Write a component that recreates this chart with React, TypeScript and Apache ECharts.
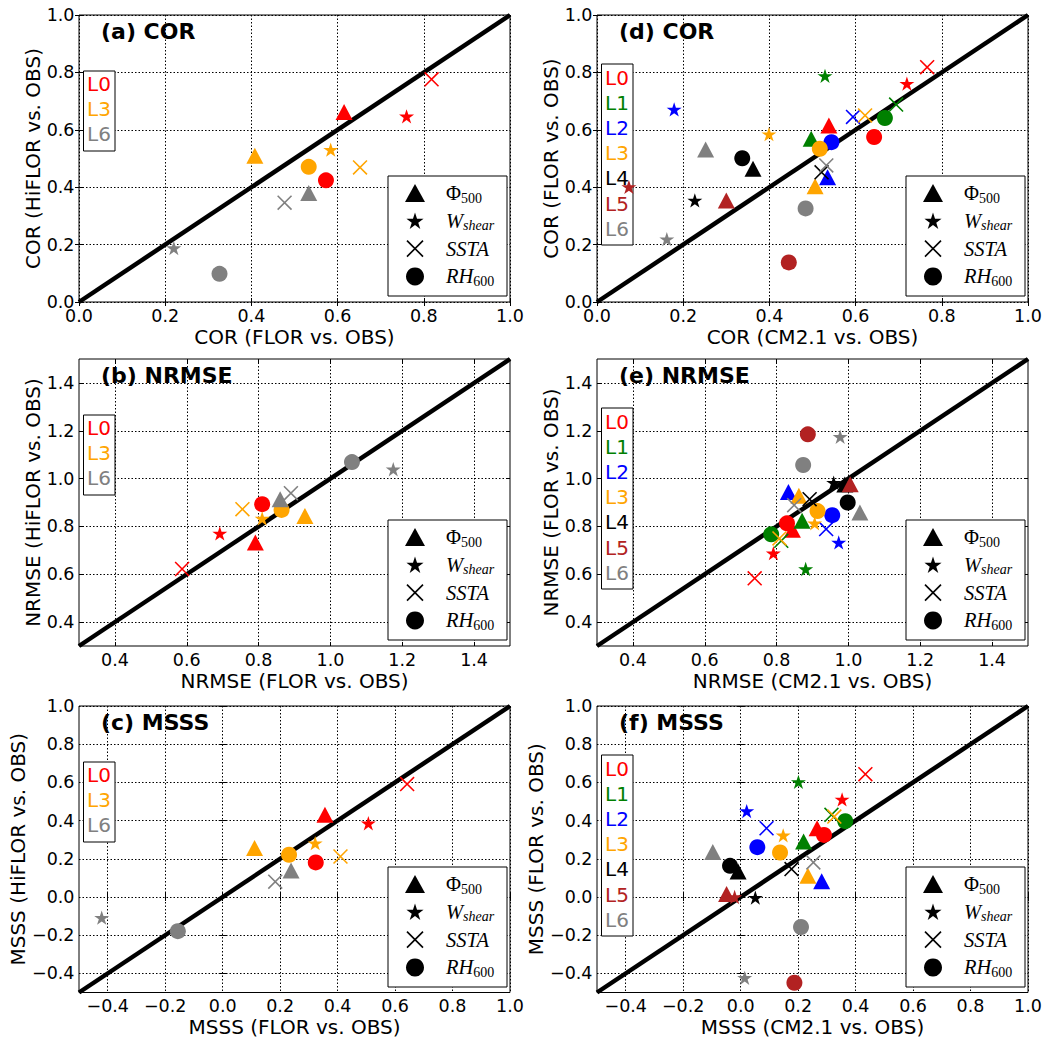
import React, { useEffect, useRef } from "react";
import * as echarts from "echarts";

// ---------- levels ----------
const LEVEL_NAMES = ["L0", "L1", "L2", "L3", "L4", "L5", "L6"];
const LEVEL_COLORS = ["#ff0000", "#008000", "#0000ff", "#ffa500", "#000000", "#b22222", "#808080"];
const LEFT_LEVELS = [0, 3, 6];
const RIGHT_LEVELS = [0, 1, 2, 3, 4, 5, 6];

// ---------- axis ranges / ticks ----------
const RANGE_COR = [0, 1];
const RANGE_NRMSE = [0.3, 1.5];
const RANGE_MSSS = [-0.5, 1.0];
const TICKS_COR = [0.0, 0.2, 0.4, 0.6, 0.8, 1.0];
const TICKS_NRMSE = [0.4, 0.6, 0.8, 1.0, 1.2, 1.4];
const TICKS_MSSS = [-0.4, -0.2, 0.0, 0.2, 0.4, 0.6, 0.8, 1.0];

// ---------- data: [x, y] per level (left panels: L0, L3, L6) ----------
const A_PHI500 = [[0.615, 0.662], [0.408, 0.510], [0.533, 0.380]];
const A_WSHEAR = [[0.760, 0.647], [0.584, 0.531], [0.220, 0.188]];
const A_SSTA = [[0.818, 0.776], [0.652, 0.469], [0.477, 0.346]];
const A_RH600 = [[0.573, 0.424], [0.533, 0.471], [0.326, 0.098]];

const B_PHI500 = [[0.791, 0.733], [0.929, 0.844], [0.860, 0.914]];
const B_WSHEAR = [[0.692, 0.771], [0.810, 0.833], [1.175, 1.039]];
const B_SSTA = [[0.587, 0.622], [0.755, 0.872], [0.890, 0.939]];
const B_RH600 = [[0.810, 0.893], [0.864, 0.869], [1.060, 1.069]];

const C_PHI500 = [[0.356, 0.430], [0.111, 0.256], [0.238, 0.139]];
const C_WSHEAR = [[0.507, 0.386], [0.322, 0.282], [-0.421, -0.108]];
const C_SSTA = [[0.642, 0.591], [0.410, 0.212], [0.183, 0.080]];
const C_RH600 = [[0.324, 0.181], [0.231, 0.221], [-0.156, -0.179]];

// right panels: L0..L6
const D_PHI500 = [[0.538, 0.615], [0.497, 0.569], [0.535, 0.435], [0.506, 0.403], [0.362, 0.464], [0.300, 0.354], [0.252, 0.531]];
const D_WSHEAR = [[0.719, 0.761], [0.529, 0.788], [0.179, 0.671], [0.399, 0.585], [0.227, 0.354], [0.074, 0.401], [0.162, 0.219]];
const D_SSTA = [[0.766, 0.818], [0.694, 0.688], [0.594, 0.645], [0.622, 0.650], [0.521, 0.452], null, [0.532, 0.476]];
const D_RH600 = [[0.643, 0.575], [0.668, 0.641], [0.544, 0.557], [0.517, 0.534], [0.337, 0.501], [0.445, 0.138], [0.484, 0.326]];

const E_PHI500 = [[0.844, 0.786], [0.871, 0.824], [0.833, 0.944], [0.862, 0.928], [0.990, 0.975], [1.005, 0.976], [1.032, 0.858]];
const E_WSHEAR = [[0.791, 0.688], [0.881, 0.622], [0.973, 0.733], [0.906, 0.813], [0.959, 0.983], null, [0.977, 1.175]];
const E_SSTA = [[0.739, 0.583], [0.813, 0.740], [0.938, 0.789], [0.808, 0.750], [0.892, 0.914], null, [0.849, 0.889]];
const E_RH600 = [[0.829, 0.813], [0.785, 0.767], [0.955, 0.847], [0.914, 0.864], [0.998, 0.900], [0.887, 1.185], [0.874, 1.057]];

const F_PHI500 = [[0.266, 0.360], [0.219, 0.290], [0.282, 0.082], [0.234, 0.111], [-0.009, 0.134], [-0.049, 0.016], [-0.097, 0.235]];
const F_WSHEAR = [[0.353, 0.511], [0.201, 0.603], [0.021, 0.450], [0.148, 0.323], [0.051, -0.003], [-0.021, 0.000], [0.014, -0.423]];
const F_SSTA = [[0.434, 0.643], [0.316, 0.430], [0.090, 0.360], [0.326, 0.421], [0.177, 0.146], null, [0.253, 0.181]];
const F_RH600 = [[0.290, 0.325], [0.364, 0.397], [0.058, 0.261], [0.137, 0.233], [-0.037, 0.163], [0.187, -0.449], [0.210, -0.157]];

// ---------- shapes ----------
function starPoints(cx: number, cy: number, R: number) {
  const pts: number[][] = [];
  for (let k = 0; k < 10; k++) {
    const r = k % 2 === 0 ? R : R * 0.381966;
    const ang = Math.PI / 2 + (k * Math.PI) / 5;
    pts.push([cx + r * Math.cos(ang), cy - r * Math.sin(ang)]);
  }
  return pts;
}
const STAR_PATH =
  "path://M" + starPoints(0, 0, 1).map((p) => p[0].toFixed(4) + "," + p[1].toFixed(4)).join("L") + "Z";
const XA = 0.08;
const X_PATH =
  `path://M${-1 + XA},${-1 - XA}L${1 + XA},${1 - XA}L${1 - XA},${1 + XA}L${-1 - XA},${-1 + XA}Z` +
  `M${1 - XA},${-1 - XA}L${1 + XA},${-1 + XA}L${-1 + XA},${1 + XA}L${-1 - XA},${1 - XA}Z`;

const SYMBOLS = ["triangle", STAR_PATH, X_PATH, "circle"];
const SYMBOL_SIZES: any[] = [[17, 16], [15, 14.3], 15, 16];

const SANS = "DejaVu Sans";
const SERIF = "Liberation Serif";

const fmt = (v: number) => v.toFixed(1).replace("-", "\u2212");

const COL_LEFT = [79, 597];
const ROW_TOP = [15, 359, 706];
const GW = 431;
const GH = 287;

const PANELS = [
  { title: "(a) COR", col: 0, row: 0, xName: "COR (FLOR vs. OBS)", yName: "COR (HiFLOR vs. OBS)", range: RANGE_COR, ticks: TICKS_COR, levels: LEFT_LEVELS, vars: [A_PHI500, A_WSHEAR, A_SSTA, A_RH600] },
  { title: "(b) NRMSE", col: 0, row: 1, xName: "NRMSE (FLOR vs. OBS)", yName: "NRMSE (HiFLOR vs. OBS)", range: RANGE_NRMSE, ticks: TICKS_NRMSE, levels: LEFT_LEVELS, vars: [B_PHI500, B_WSHEAR, B_SSTA, B_RH600] },
  { title: "(c) MSSS", col: 0, row: 2, xName: "MSSS (FLOR vs. OBS)", yName: "MSSS (HiFLOR vs. OBS)", range: RANGE_MSSS, ticks: TICKS_MSSS, levels: LEFT_LEVELS, vars: [C_PHI500, C_WSHEAR, C_SSTA, C_RH600] },
  { title: "(d) COR", col: 1, row: 0, xName: "COR (CM2.1 vs. OBS)", yName: "COR (FLOR vs. OBS)", range: RANGE_COR, ticks: TICKS_COR, levels: RIGHT_LEVELS, vars: [D_PHI500, D_WSHEAR, D_SSTA, D_RH600] },
  { title: "(e) NRMSE", col: 1, row: 1, xName: "NRMSE (CM2.1 vs. OBS)", yName: "NRMSE (FLOR vs. OBS)", range: RANGE_NRMSE, ticks: TICKS_NRMSE, levels: RIGHT_LEVELS, vars: [E_PHI500, E_WSHEAR, E_SSTA, E_RH600] },
  { title: "(f) MSSS", col: 1, row: 2, xName: "MSSS (CM2.1 vs. OBS)", yName: "MSSS (FLOR vs. OBS)", range: RANGE_MSSS, ticks: TICKS_MSSS, levels: RIGHT_LEVELS, vars: [F_PHI500, F_WSHEAR, F_SSTA, F_RH600] },
];

const LEGEND_TEXTS = [
  "{m|\u03A6}{s|500}",
  "{mi|W}{si|shear}",
  "{mi|SSTA}",
  "{mi|RH}{s|600}",
];
const LEGEND_RICH = {
  m: { fontSize: 20.5, fontFamily: SERIF, lineHeight: 24, fill: "#000" },
  mi: { fontSize: 20.5, fontFamily: SERIF, fontStyle: "italic", lineHeight: 24, fill: "#000" },
  s: { fontSize: 14, fontFamily: SERIF, lineHeight: 8, verticalAlign: "bottom", fill: "#000" },
  si: { fontSize: 14, fontFamily: SERIF, fontStyle: "italic", lineHeight: 8, verticalAlign: "bottom", fill: "#000" },
};

function buildOption() {
  const grid: any[] = [];
  const xAxis: any[] = [];
  const yAxis: any[] = [];
  const series: any[] = [];
  const graphic: any[] = [];

  PANELS.forEach((p, i) => {
    const left = COL_LEFT[p.col];
    const top = ROW_TOP[p.row];
    grid.push({ left, top, width: GW, height: GH, show: true, borderColor: "#000", borderWidth: 1, backgroundColor: "transparent" });

    const common = { gridIndex: i, type: "value", min: p.range[0], max: p.range[1], axisLine: { show: false } };
    const tickMain = { show: true, inside: true, length: 4, lineStyle: { color: "#000", width: 1 }, customValues: p.ticks };
    const labelX = { show: true, customValues: p.ticks, formatter: fmt, margin: 5.5, fontSize: 17.5, lineHeight: 16, fontFamily: SANS, color: "#000" };
    const labelY = { show: true, customValues: p.ticks, formatter: fmt, margin: 4.5, fontSize: 17.5, lineHeight: 10, fontFamily: SANS, color: "#000" };
    const split = { show: true, lineStyle: { type: [1.5, 2], color: "#000", width: 1 } };
    const nameStyle = { fontSize: 20, lineHeight: 20, fontFamily: SANS, color: "#000" };

    xAxis.push({ ...common, position: "bottom", name: p.xName, nameLocation: "middle", nameGap: 24.5, nameTextStyle: nameStyle, axisTick: tickMain, axisLabel: labelX, splitLine: split });
    xAxis.push({ ...common, position: "top", axisTick: tickMain, axisLabel: { show: false }, splitLine: { show: false } });
    yAxis.push({ ...common, position: "left", name: p.yName, nameLocation: "middle", nameGap: 36, nameTextStyle: nameStyle, axisTick: tickMain, axisLabel: labelY, splitLine: split });
    yAxis.push({ ...common, position: "right", axisTick: tickMain, axisLabel: { show: false }, splitLine: { show: false } });

    // 1:1 line
    series.push({
      type: "line",
      xAxisIndex: 2 * i,
      yAxisIndex: 2 * i,
      data: [[p.range[0], p.range[0]], [p.range[1], p.range[1]]],
      symbol: "none",
      lineStyle: { color: "#000", width: 4.5 },
      z: 2,
      silent: true,
    });

    // markers per level
    p.levels.forEach((lev, li) => {
      const data: any[] = [];
      p.vars.forEach((arr: any[], vi) => {
        const pt = arr[li];
        if (pt) data.push({ value: pt, symbol: SYMBOLS[vi], symbolSize: SYMBOL_SIZES[vi] });
      });
      series.push({
        type: "scatter",
        name: p.title + " " + LEVEL_NAMES[lev],
        xAxisIndex: 2 * i,
        yAxisIndex: 2 * i,
        data,
        itemStyle: { color: LEVEL_COLORS[lev], opacity: 1 },
        z: 3,
        silent: true,
      });
    });

    // title
    graphic.push({
      type: "text",
      x: left + 22,
      y: top + 16,
      z: 5,
      style: { text: p.title, fontSize: 22, fontWeight: "bold", fontFamily: SANS, fill: "#000", align: "left", verticalAlign: "middle" },
    });

    // level legend box
    const n = p.levels.length;
    const many = n > 3;
    const boxY = top + (many ? 49 : 56);
    const boxH = many ? 181 : 80;
    const firstY = top + (many ? 63 : 69);
    const step = many ? 25.1 : 24.9;
    graphic.push({
      type: "rect",
      z: 1,
      shape: { x: left + 4.5, y: boxY, width: 31.5, height: boxH },
      style: { fill: "#fff", stroke: "#000", lineWidth: 1 },
    });
    p.levels.forEach((lev, k) => {
      graphic.push({
        type: "text",
        z: 1,
        x: left + 8,
        y: firstY + step * k,
        style: { text: LEVEL_NAMES[lev], fontSize: 20, fontFamily: SANS, fill: LEVEL_COLORS[lev], align: "left", verticalAlign: "middle" },
      });
    });

    // marker legend box
    const bx = left + GW - 122;
    const by = top + GH - 126;
    graphic.push({ type: "rect", z: 4, shape: { x: bx, y: by, width: 119, height: 120 }, style: { fill: "#fff", stroke: "#000", lineWidth: 1 } });
    const mx = bx + 27;
    const rowsY = [0, 1, 2, 3].map((k) => by + 17 + 27.8 * k);
    graphic.push({ type: "polygon", z: 5, shape: { points: [[mx - 10, rowsY[0] + 9], [mx, rowsY[0] - 9], [mx + 10, rowsY[0] + 9]] }, style: { fill: "#000" } });
    graphic.push({ type: "polygon", z: 5, shape: { points: starPoints(mx, rowsY[1] + 0.8, 9) }, style: { fill: "#000" } });
    graphic.push({ type: "line", z: 5, shape: { x1: mx - 8, y1: rowsY[2] - 8, x2: mx + 8, y2: rowsY[2] + 8 }, style: { stroke: "#000", lineWidth: 1.6 } });
    graphic.push({ type: "line", z: 5, shape: { x1: mx + 8, y1: rowsY[2] - 8, x2: mx - 8, y2: rowsY[2] + 8 }, style: { stroke: "#000", lineWidth: 1.6 } });
    graphic.push({ type: "circle", z: 5, shape: { cx: mx, cy: rowsY[3], r: 9 }, style: { fill: "#000" } });
    LEGEND_TEXTS.forEach((t, k) => {
      graphic.push({
        type: "text",
        z: 5,
        x: bx + 58,
        y: rowsY[k],
        style: { text: t, rich: LEGEND_RICH, align: "left", verticalAlign: "middle" },
      });
    });
  });

  return { animation: false, backgroundColor: "#fff", grid, xAxis, yAxis, series, graphic };
}

export default function App() {
  const ref = useRef<HTMLDivElement>(null);
  useEffect(() => {
    const chart = echarts.init(ref.current as HTMLDivElement, null, { renderer: "svg" });
    chart.setOption(buildOption() as any);
    return () => chart.dispose();
  }, []);
  return (
    <div
      ref={ref}
      style={{ position: "fixed", left: 0, top: 0, width: 1048, height: 1038, background: "#fff" }}
    />
  );
}
